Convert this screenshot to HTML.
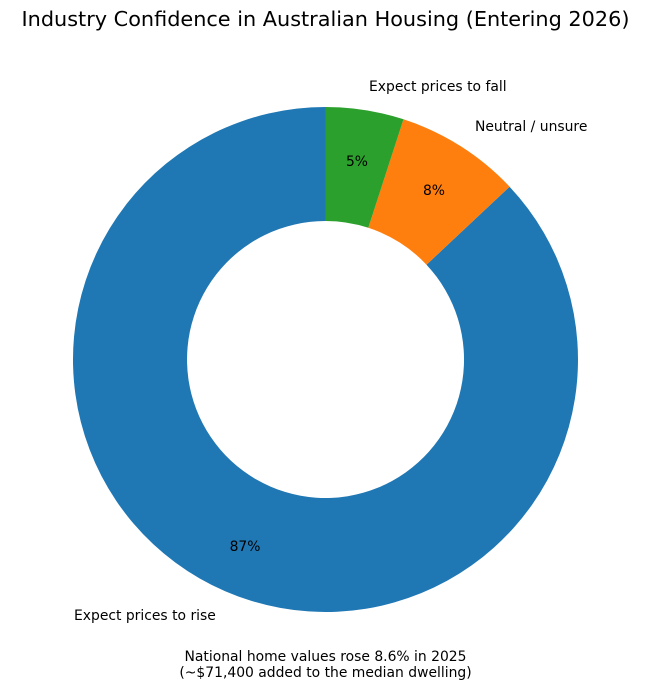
<!DOCTYPE html>
<html><head><meta charset="utf-8"><style>
html,body{margin:0;padding:0;background:#fff;}
svg{display:block;font-family:"DejaVu Sans","Liberation Sans",sans-serif;}
</style></head><body>
<svg width="651" height="689" viewBox="0 0 651 689" xmlns="http://www.w3.org/2000/svg">
<text x="325.5" y="26" font-size="20.8" text-anchor="middle" fill="#000">Industry Confidence in Australian Housing (Entering 2026)</text>
<path d="M325.5,107 A252.5,252.5 0 1 0 509.6,186.7 L426.5,264.7 A138.5,138.5 0 1 1 325.5,221 Z" fill="#1f77b4"/>
<path d="M509.6,186.7 A252.5,252.5 0 0 0 403.5,119.3 L368.3,227.8 A138.5,138.5 0 0 1 426.5,264.7 Z" fill="#ff7f0e"/>
<path d="M403.5,119.3 A252.5,252.5 0 0 0 325.5,107 L325.5,221 A138.5,138.5 0 0 1 368.3,227.8 Z" fill="#2ca02c"/>
<g font-size="13.9" fill="#000">
<text x="357" y="166" text-anchor="middle">5%</text>
<text x="434" y="195" text-anchor="middle">8%</text>
<text x="245" y="551" text-anchor="middle">87%</text>
<text x="369" y="91">Expect prices to fall</text>
<text x="475" y="131">Neutral / unsure</text>
<text x="74" y="620">Expect prices to rise</text>
<text x="325.5" y="661" text-anchor="middle">National home values rose 8.6% in 2025</text>
<text x="325.5" y="677" text-anchor="middle">(~$71,400 added to the median dwelling)</text>
</g>
</svg>
</body></html>
